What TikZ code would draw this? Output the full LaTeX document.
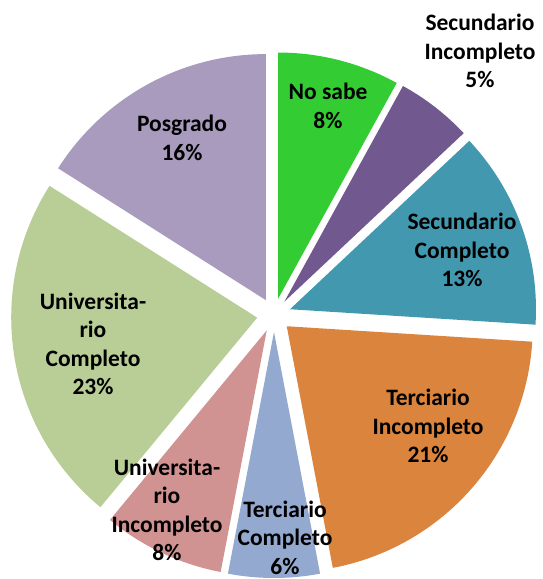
\documentclass[tikz,border=0pt]{standalone}
\usepackage{fontspec}
\setmainfont{Carlito}
\usetikzlibrary{calc}
\definecolor{cNo}{HTML}{33CC33}
\definecolor{cSI}{HTML}{71588F}
\definecolor{cSC}{HTML}{4198AF}
\definecolor{cTI}{HTML}{DB843D}
\definecolor{cTC}{HTML}{93A9CF}
\definecolor{cUI}{HTML}{D19392}
\definecolor{cUC}{HTML}{B9CD96}
\definecolor{cPo}{HTML}{A99BBD}
\begin{document}
\begin{tikzpicture}[x=1pt,y=1pt,
  lbl/.style={font=\bfseries\fontsize{23.5}{28.5}\selectfont, align=center, inner sep=0pt, text=black}]
\useasboundingbox (0,0) rectangle (542,579);
\coordinate (C) at (274,264);
\foreach \a/\b/\c in {61.2/90/cNo, 43.2/61.2/cSI, -3.6/43.2/cSC, -79.2/-3.6/cTI, -100.8/-79.2/cTC, -129.6/-100.8/cUI, -212.4/-129.6/cUC, -270/-212.4/cPo} {
  \pgfmathsetmacro\m{(\a+\b)/2}
  \fill[\c] ($(C)+(\m:17pt)$) -- ++(\a:246pt) arc[start angle=\a, end angle=\b, radius=246pt] -- cycle;
}
\node[lbl] (si) at (480,528) {Secundario\\Incompleto\\5\%};
\node[lbl] (ns) at (328,473) {No sabe\\8\%};
\node[lbl] (po) at (182,441) {Posgrado\\16\%};
\node[lbl] (sc) at (462,329) {Secundario\\Completo\\13\%};
\node[lbl] (uc) at (93,235) {Universita-\\rio\\Completo\\23\%};
\node[lbl] (ti) at (428,153) {Terciario\\Incompleto\\21\%};
\node[lbl] (ui) at (167,69) {Universita-\\rio\\Incompleto\\8\%};
\node[lbl] (tc) at (285,41.5) {Terciario\\Completo\\6\%};
\end{tikzpicture}
\end{document}
